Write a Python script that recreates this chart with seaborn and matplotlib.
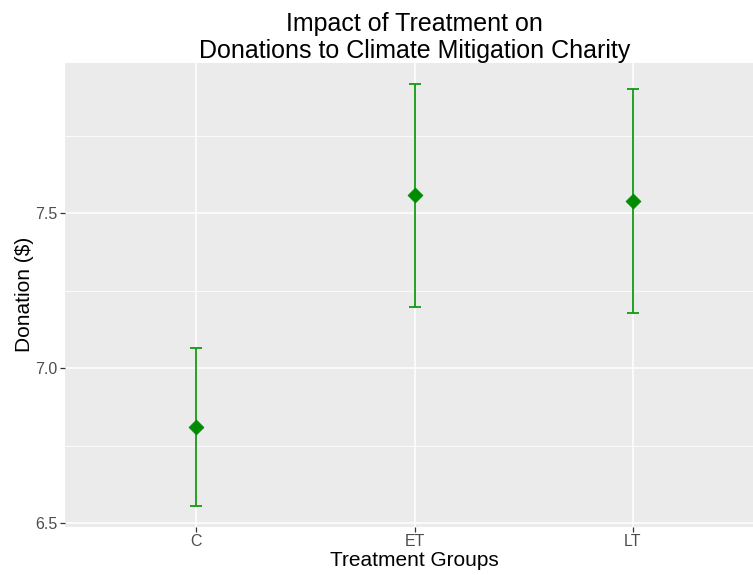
import matplotlib
matplotlib.use("Agg")
import matplotlib.pyplot as plt
from matplotlib.ticker import MultipleLocator
import numpy as np
import pandas as pd
import seaborn as sns

# Group means and 95% interval bounds of donations ($)
groups = ["C", "ET", "LT"]
mean_donation = [6.811, 7.558, 7.540]
ci_low = [6.557, 7.199, 7.178]
ci_high = [7.066, 7.916, 7.902]

df = pd.DataFrame({"group": groups, "donation": mean_donation})

sns.set_theme(style="darkgrid", rc={
    "axes.facecolor": "#EBEBEB",
    "grid.color": "white",
    "axes.edgecolor": "#EBEBEB",
    "axes.linewidth": 0,
    "xtick.bottom": True,
    "ytick.left": True,
    "xtick.color": "#333333",
    "ytick.color": "#333333",
    "xtick.major.size": 3.5,
    "ytick.major.size": 3.5,
    "xtick.major.width": 0.9,
    "ytick.major.width": 0.9,
})
plt.rcParams["font.family"] = ["Liberation Sans", "DejaVu Sans"]

fig = plt.figure(figsize=(7.53, 5.75), dpi=100)
ax = fig.add_axes([65 / 753, 48.3 / 575, 699 / 753, 464 / 575])

# interval bars
low = np.array(ci_low)
high = np.array(ci_high)
mid = np.array(mean_donation)
ax.errorbar(groups, mean_donation, yerr=[mid - low, high - mid], fmt="none",
            ecolor="#159a15", elinewidth=1.3, capsize=4.3, capthick=1.3, zorder=3)

# group means
sns.scatterplot(data=df, x="group", y="donation", marker="D", s=58,
                color="#008B00", edgecolor="#008B00", linewidth=0.5,
                ax=ax, zorder=4)

ax.set_xlim(-0.6, 2.6)
ax.set_ylim(6.489, 7.986)
ax.yaxis.set_major_locator(MultipleLocator(0.5))
ax.yaxis.set_minor_locator(MultipleLocator(0.25))
ax.grid(which="major", color="white", linewidth=1.1)
ax.grid(which="minor", axis="y", color="white", linewidth=0.55)
ax.xaxis.grid(True, which="major")
ax.tick_params(axis="both", which="major", labelsize=11.5, labelcolor="#4D4D4D", pad=2)
ax.tick_params(axis="y", which="minor", length=0)
ax.yaxis.set_major_formatter(matplotlib.ticker.FormatStrFormatter("%.1f"))

ax.set_xlabel("Treatment Groups", fontsize=15, color="black", labelpad=1)
ax.set_ylabel("Donation ($)", fontsize=15, color="black", labelpad=1)
ax.set_title("Impact of Treatment on\nDonations to Climate Mitigation Charity",
             fontsize=18, color="black", pad=-1, linespacing=1.15)

for s in ax.spines.values():
    s.set_visible(False)

fig.savefig("out.png", dpi=100)
